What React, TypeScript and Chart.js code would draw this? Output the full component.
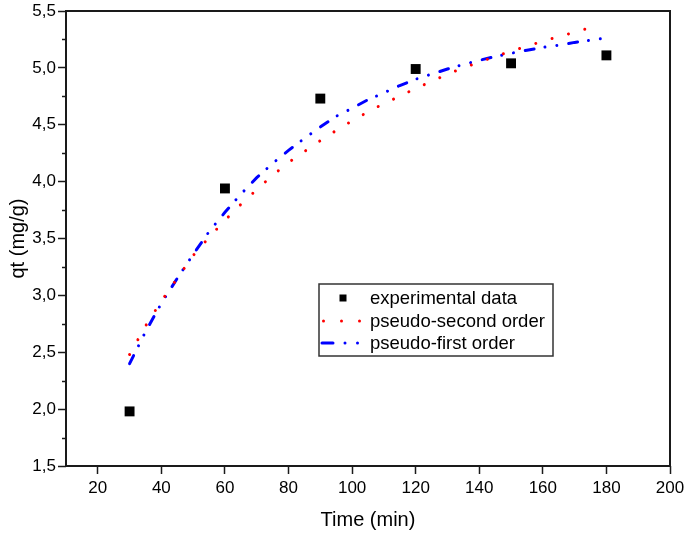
import React, { useEffect, useRef } from 'react';
import { Chart, registerables } from 'chart.js';

Chart.register(...registerables);

// Experimental data
const expTime = [30, 60, 90, 120, 150, 180];
const expQt = [1.98, 3.94, 4.73, 4.99, 5.04, 5.11];

// Pseudo-first order curve
const pfoTime = [30, 35, 40, 45, 50, 55, 60, 65, 70, 75, 80, 85, 90, 95, 100, 105, 110, 115, 120, 125, 130, 135, 140, 145, 150, 155, 160, 165, 170, 175, 180];
const pfoQt = [2.40, 2.68, 2.93, 3.15, 3.36, 3.56, 3.73, 3.89, 4.035, 4.16, 4.275, 4.38, 4.48, 4.575, 4.645, 4.72, 4.78, 4.845, 4.90, 4.945, 4.99, 5.03, 5.066, 5.10, 5.128, 5.155, 5.18, 5.20, 5.224, 5.243, 5.264];

// Pseudo-second order curve
const psoTime = [30, 35, 40, 45, 50, 55, 60, 65, 70, 75, 80, 85, 90, 95, 100, 105, 110, 115, 120, 125, 130, 135, 140, 145, 150, 155, 160, 165, 170, 175, 178];
const psoQt = [2.48, 2.73, 2.95, 3.15, 3.35, 3.51, 3.66, 3.80, 3.93, 4.055, 4.168, 4.265, 4.36, 4.45, 4.535, 4.613, 4.687, 4.75, 4.82, 4.88, 4.945, 5.0, 5.05, 5.10, 5.147, 5.19, 5.235, 5.275, 5.313, 5.355, 5.376];

const xTicks = [20, 40, 60, 80, 100, 120, 140, 160, 180, 200];
const yTicks = [1.5, 2.0, 2.5, 3.0, 3.5, 4.0, 4.5, 5.0, 5.5];
const yMinorTicks = [1.75, 2.25, 2.75, 3.25, 3.75, 4.25, 4.75, 5.25];

const seriesLabels = ['experimental data', 'pseudo-second order', 'pseudo-first order'];

const FONT = '"Liberation Sans", Arial, Helvetica, sans-serif';
const AXIS = '#1a1a1a';

const framePlugin = {
  id: 'frameAndLegend',
  afterDraw(chart: any) {
    const { ctx, chartArea: a, scales } = chart;
    ctx.save();
    // frame
    ctx.strokeStyle = AXIS;
    ctx.lineWidth = 2;
    ctx.strokeRect(a.left, a.top, a.right - a.left, a.bottom - a.top);
    // minor ticks on y
    ctx.lineWidth = 1.5;
    yMinorTicks.forEach((v) => {
      const py = Math.round(scales.y.getPixelForValue(v)) + 0.5;
      ctx.beginPath();
      ctx.moveTo(a.left - 4, py);
      ctx.lineTo(a.left, py);
      ctx.stroke();
    });
    // legend
    const lx = a.left + 253;
    const ly = a.top + 273;
    const lw = 234;
    const lh = 72;
    ctx.lineWidth = 1.5;
    ctx.strokeStyle = '#333';
    ctx.strokeRect(lx, ly, lw, lh);
    const rows = [ly + 14, ly + 37, ly + 59];
    // square
    ctx.fillStyle = '#000';
    ctx.fillRect(lx + 20.5, rows[0] - 3.5, 7, 7);
    // red dots
    ctx.fillStyle = '#ff0000';
    [4.5, 22.5, 40.5].forEach((dx) => {
      ctx.beginPath();
      ctx.arc(lx + dx, rows[1], 1.5, 0, Math.PI * 2);
      ctx.fill();
    });
    // blue dash dot dot
    ctx.strokeStyle = '#0000ff';
    ctx.lineWidth = 3;
    ctx.lineCap = 'round';
    ctx.beginPath();
    ctx.moveTo(lx + 3, rows[2]);
    ctx.lineTo(lx + 14, rows[2]);
    ctx.stroke();
    ctx.fillStyle = '#0000ff';
    [26, 38.5].forEach((dx) => {
      ctx.beginPath();
      ctx.arc(lx + dx, rows[2], 1.5, 0, Math.PI * 2);
      ctx.fill();
    });
    ctx.fillStyle = '#000';
    ctx.font = `18.5px ${FONT}`;
    ctx.textBaseline = 'middle';
    ctx.textAlign = 'left';
    const labels = chart.data.datasets.map((d: any) => d.label);
    labels.forEach((t: string, i: number) => ctx.fillText(t, lx + 51, rows[i] + 1));
    ctx.restore();
  },
};

export default function App() {
  const ref = useRef<HTMLCanvasElement>(null);
  useEffect(() => {
    document.body.style.margin = '0';
    const chart = new Chart(ref.current!, {
      type: 'scatter',
      data: {
        datasets: [
          {
            label: seriesLabels[0],
            data: expTime.map((t, i) => ({ x: t, y: expQt[i] })),
            pointStyle: 'rect',
            pointRadius: 7,
            pointBackgroundColor: '#000',
            pointBorderWidth: 0,
            showLine: false,
          },
          {
            label: seriesLabels[1],
            data: psoTime.map((t, i) => ({ x: t, y: psoQt[i] })),
            showLine: true,
            pointRadius: 0,
            borderColor: '#ff0000',
            borderWidth: 3,
            borderDash: [0.001, 17],
            borderCapStyle: 'round',
            tension: 0,
          },
          {
            label: seriesLabels[2],
            data: pfoTime.map((t, i) => ({ x: t, y: pfoQt[i] })),
            showLine: true,
            pointRadius: 0,
            borderColor: '#0000ff',
            borderWidth: 3,
            borderDash: [9, 11, 0.001, 12, 0.001, 12],
            borderCapStyle: 'round',
            tension: 0,
          },
        ],
      },
      options: {
        animation: false,
        responsive: false,
        maintainAspectRatio: false,
        layout: { padding: { left: 0, right: 15, top: 11, bottom: 0 } },
        plugins: { legend: { display: false }, tooltip: { enabled: false } },
        scales: {
          x: {
            type: 'linear',
            min: 10,
            max: 200,
            afterBuildTicks: (s: any) => { s.ticks = xTicks.map((v) => ({ value: v })); },
            afterFit: (s: any) => { s.height = 68; },
            border: { display: false },
            grid: { drawOnChartArea: false, drawTicks: true, tickLength: 8, tickColor: AXIS, tickWidth: 1.5 },
            ticks: { color: '#000', font: { family: FONT, size: 17, lineHeight: 1.73 }, padding: 0, maxRotation: 0 },
            title: { display: true, text: 'Time (min)', color: '#000', font: { family: FONT, size: 20 }, padding: { top: 0, bottom: 2 } },
          },
          y: {
            type: 'linear',
            min: 1.5,
            max: 5.5,
            afterBuildTicks: (s: any) => { s.ticks = yTicks.map((v) => ({ value: v })); },
            afterFit: (s: any) => { s.width = 66; },
            border: { display: false },
            grid: { drawOnChartArea: false, drawTicks: true, tickLength: 8, tickColor: AXIS, tickWidth: 1.5 },
            ticks: {
              color: '#000',
              font: { family: FONT, size: 17, lineHeight: 1 },
              padding: 2,
              callback: (v: any) => Number(v).toFixed(1).replace('.', ','),
            },
            title: { display: true, text: 'qt (mg/g)', color: '#000', font: { family: FONT, size: 20 }, padding: { top: 6, bottom: 0 } },
          },
        },
      },
      plugins: [framePlugin],
    } as any);
    return () => chart.destroy();
  }, []);
  return (
    <div style={{ width: 685, height: 534 }}>
      <canvas ref={ref} width={685} height={534} style={{ display: 'block', width: 685, height: 534 }} />
    </div>
  );
}
